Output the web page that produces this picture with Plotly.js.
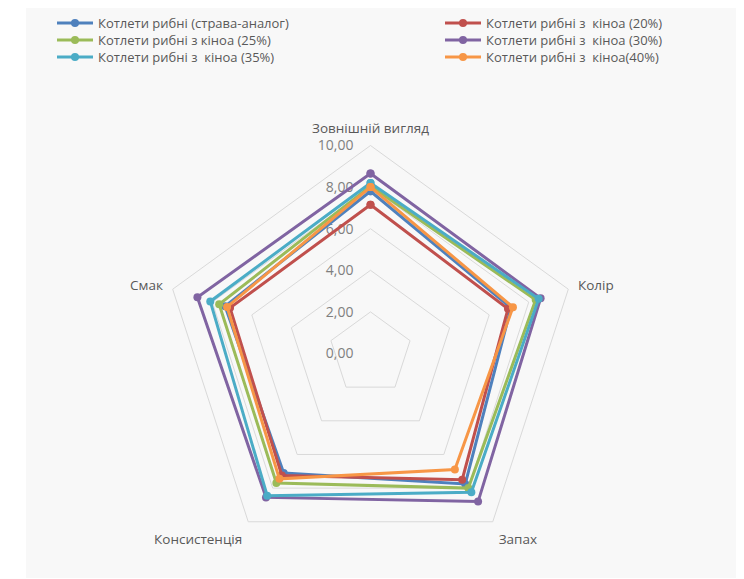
<!DOCTYPE html>
<html><head><meta charset="utf-8">
<script src="https://cdn.plot.ly/plotly-3.0.1.min.js"></script>
<style>html,body{margin:0;padding:0;background:#fff}#chart{width:744px;height:579px}</style>
</head><body><div id="chart"></div>
<script>
const categories = ["Зовнішній вигляд", "Колір", "Запах", "Консистенція", "Смак"];
const seriesNames = [
  "Котлети рибні (страва-аналог)",
  "Котлети рибні з  кіноа (20%)",
  "Котлети рибні з кіноа (25%)",
  "Котлети рибні з  кіноа (30%)",
  "Котлети рибні з  кіноа (35%)",
  "Котлети рибні з  кіноа(40%)"
];
const analog = [7.8, 7.1, 7.75, 7.1, 7.35];
const quinoa20 = [7.15, 6.95, 7.5, 7.25, 7.1];
const quinoa25 = [8.05, 8.35, 8.0, 7.7, 7.65];
const quinoa30 = [8.65, 8.6, 8.8, 8.55, 8.75];
const quinoa35 = [8.2, 8.5, 8.25, 8.45, 8.1];
const quinoa40 = [8.0, 7.2, 6.9, 7.45, 7.25];
const radialTicks = [0, 2, 4, 6, 8, 10];

const seriesValues = [analog, quinoa20, quinoa25, quinoa30, quinoa35, quinoa40];
const colors = ["#4F81BD", "#C0504D", "#9BBB59", "#8064A2", "#4BACC6", "#F79646"];
const legendIds = ["legend", "legend2", "legend3", "legend4", "legend5", "legend6"];

const traces = seriesValues.map((vals, i) => ({
  type: "scatterpolar",
  mode: "lines+markers",
  r: vals.concat([vals[0]]),
  theta: categories.concat([categories[0]]),
  name: seriesNames[i],
  legend: legendIds[i],
  line: {color: colors[i], width: 3},
  marker: {color: colors[i], size: 8},
  cliponaxis: false
}));
// empty helper trace so the value-scale axis (labels beside the radial axis) is drawn
traces.push({type: "scatter", x: [], y: [], xaxis: "x", yaxis: "y", showlegend: false, hoverinfo: "skip"});

const W = 744, H = 579;
const cx = 370.5, cy = 353.5, R = 208;
const legendBase = {
  orientation: "v", yanchor: "top", xanchor: "left",
  itemwidth: 36,
  font: {family: "Open Sans, sans-serif", size: 13, color: "#595959"},
  bgcolor: "rgba(0,0,0,0)"
};
const colX = [52, 440];
const rowTop = [8, 25, 42];
const layout = {
  width: W, height: H,
  margin: {l: 0, r: 0, t: 0, b: 0},
  paper_bgcolor: "#ffffff",
  plot_bgcolor: "rgba(0,0,0,0)",
  separators: ", ",
  font: {family: "Open Sans, sans-serif", color: "#595959", size: 12},
  shapes: [{type: "rect", xref: "paper", yref: "paper", layer: "below",
    x0: 26/W, x1: 736/W, y0: 1 - 578/H, y1: 1 - 8/H,
    fillcolor: "#f8f8f8", line: {width: 0}}],
  showlegend: true,
  xaxis: {visible: false, domain: [(cx - 2)/W, (cx + 2)/W], range: [0, 1], fixedrange: true},
  yaxis: {
    domain: [1 - cy/H, 1 - (cy - R)/H], range: [0, 10],
    tickvals: radialTicks, tickformat: ".2f",
    anchor: "free", position: (cx - 17)/W, side: "left",
    showgrid: false, zeroline: false, showline: false, ticks: "",
    tickfont: {size: 14, color: "#7f7f7f"}, fixedrange: true
  },
  polar: {
    domain: {x: [(cx - R)/W, (cx + R)/W], y: [1 - (cy + R)/H, 1 - (cy - R)/H]},
    bgcolor: "rgba(0,0,0,0)",
    gridshape: "linear",
    radialaxis: {
      range: [0, 10], tickvals: radialTicks, showticklabels: false,
      angle: 90, showline: false, ticks: "", gridcolor: "#d9d9d9", gridwidth: 1
    },
    angularaxis: {
      rotation: 90, direction: "clockwise",
      showgrid: false, showline: true, linecolor: "#d9d9d9", linewidth: 1,
      ticks: "outside", ticklen: 7, tickcolor: "rgba(0,0,0,0)",
      tickfont: {size: 13.5, color: "#595959"}
    }
  }
};
legendIds.forEach((id, i) => {
  layout[id] = Object.assign({}, legendBase, {
    x: colX[i % 2] / W,
    y: 1 - rowTop[Math.floor(i / 2)] / H
  });
});
Plotly.newPlot("chart", traces, layout, {displayModeBar: false, staticPlot: true});
</script></body></html>
